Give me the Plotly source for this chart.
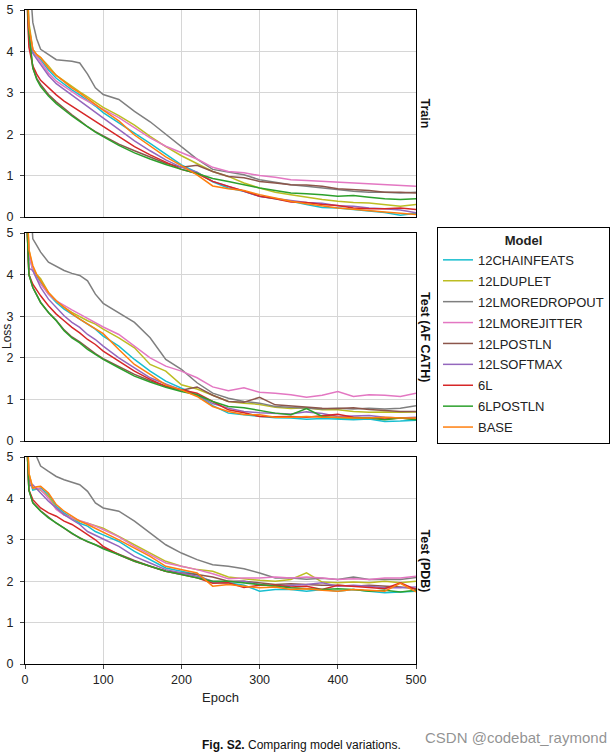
import plotly.graph_objects as go

epochs = [1, 5, 10, 15, 20, 30, 40, 50, 60, 70, 80, 90, 100, 120, 140, 160, 180, 200,
          220, 240, 260, 280, 300, 320, 340, 360, 380, 400, 420, 440, 460, 480, 500]

models = ["12CHAINFEATS", "12LDUPLET", "12LMOREDROPOUT", "12LMOREJITTER", "12LPOSTLN",
          "12LSOFTMAX", "6L", "6LPOSTLN", "BASE"]
colors = ["#17becf", "#bcbd22", "#7f7f7f", "#e377c2", "#8c564b",
          "#9467bd", "#d62728", "#2ca02c", "#ff7f0e"]
panels = ["Train", "Test (AF CATH)", "Test (PDB)"]

train_12chainfeats = [6.5, 4.6, 4.0, 3.88, 3.8, 3.55, 3.35, 3.2, 3.07, 2.95, 2.82, 2.68, 2.52, 2.28, 2.02, 1.78, 1.52, 1.26, 1.08, 0.85, 0.7, 0.62, 0.5, 0.44, 0.38, 0.3, 0.23, 0.22, 0.18, 0.14, 0.11, 0.04, 0.09]
train_12lduplet = [6.5, 4.7, 4.05, 3.92, 3.85, 3.65, 3.42, 3.28, 3.15, 3.02, 2.9, 2.78, 2.65, 2.45, 2.22, 1.95, 1.7, 1.48, 1.3, 1.1, 0.98, 0.82, 0.7, 0.6, 0.54, 0.48, 0.42, 0.38, 0.35, 0.34, 0.3, 0.26, 0.3]
train_12lmoredropout = [7.5, 6.0, 4.7, 4.3, 4.05, 3.93, 3.8, 3.78, 3.76, 3.72, 3.45, 3.12, 2.96, 2.84, 2.55, 2.3, 2.0, 1.72, 1.4, 1.15, 1.08, 1.02, 0.9, 0.84, 0.78, 0.74, 0.7, 0.66, 0.62, 0.6, 0.6, 0.58, 0.6]
train_12lmorejitter = [6.5, 4.5, 4.05, 3.88, 3.75, 3.48, 3.28, 3.15, 3.02, 2.9, 2.8, 2.69, 2.6, 2.4, 2.15, 1.91, 1.71, 1.55, 1.4, 1.2, 1.1, 1.07, 1.0, 0.96, 0.9, 0.88, 0.86, 0.84, 0.82, 0.8, 0.79, 0.76, 0.74]
train_12lpostln = [6.0, 4.4, 3.6, 3.35, 3.2, 2.96, 2.78, 2.62, 2.47, 2.33, 2.18, 2.06, 1.96, 1.76, 1.6, 1.45, 1.3, 1.2, 1.25, 1.1, 0.98, 0.95, 0.86, 0.82, 0.78, 0.77, 0.74, 0.68, 0.66, 0.64, 0.6, 0.6, 0.58]
train_12lsoftmax = [6.2, 4.2, 3.95, 3.82, 3.7, 3.42, 3.22, 3.08, 2.95, 2.82, 2.68, 2.52, 2.38, 2.12, 1.84, 1.6, 1.38, 1.2, 1.08, 0.86, 0.74, 0.62, 0.5, 0.45, 0.4, 0.35, 0.33, 0.27, 0.26, 0.22, 0.2, 0.17, 0.1]
train_6l = [6.0, 4.1, 3.65, 3.45, 3.3, 3.12, 2.95, 2.8, 2.68, 2.56, 2.44, 2.32, 2.18, 1.95, 1.7, 1.5, 1.32, 1.15, 1.05, 0.86, 0.74, 0.63, 0.5, 0.44, 0.36, 0.35, 0.3, 0.28, 0.22, 0.2, 0.2, 0.22, 0.18]
train_6lpostln = [6.0, 4.45, 3.6, 3.32, 3.15, 2.92, 2.74, 2.58, 2.44, 2.31, 2.17, 2.05, 1.94, 1.73, 1.55, 1.4, 1.27, 1.15, 1.05, 0.93, 0.86, 0.78, 0.7, 0.64, 0.58, 0.56, 0.54, 0.5, 0.52, 0.48, 0.44, 0.42, 0.44]
train_base = [6.5, 4.6, 4.05, 3.92, 3.85, 3.6, 3.42, 3.27, 3.12, 3.0, 2.87, 2.72, 2.58, 2.32, 1.98, 1.72, 1.45, 1.24, 1.02, 0.75, 0.68, 0.64, 0.54, 0.46, 0.38, 0.32, 0.27, 0.22, 0.19, 0.15, 0.12, 0.09, 0.06]

af_12chainfeats = [6.5, 4.5, 4.1, 3.95, 3.81, 3.53, 3.33, 3.17, 3.05, 2.93, 2.81, 2.69, 2.52, 2.28, 1.96, 1.68, 1.44, 1.27, 1.1, 0.85, 0.67, 0.63, 0.59, 0.56, 0.55, 0.52, 0.54, 0.52, 0.51, 0.53, 0.47, 0.48, 0.5]
af_12lduplet = [6.5, 4.6, 4.15, 4.0, 3.9, 3.57, 3.37, 3.21, 3.09, 2.98, 2.89, 2.81, 2.69, 2.48, 2.24, 1.84, 1.68, 1.35, 1.25, 1.1, 0.95, 0.91, 0.88, 0.81, 0.78, 0.8, 0.75, 0.75, 0.71, 0.69, 0.7, 0.69, 0.7]
af_12lmoredropout = [7.5, 6.2, 4.86, 4.7, 4.54, 4.3, 4.19, 4.1, 4.03, 3.98, 3.85, 3.53, 3.31, 3.09, 2.85, 2.48, 1.96, 1.72, 1.4, 1.15, 1.03, 0.95, 0.91, 0.83, 0.81, 0.79, 0.77, 0.79, 0.77, 0.79, 0.77, 0.79, 0.85]
af_12lmorejitter = [6.5, 4.5, 4.1, 3.9, 3.77, 3.53, 3.37, 3.25, 3.15, 3.05, 2.94, 2.85, 2.74, 2.56, 2.28, 2.0, 1.8, 1.68, 1.52, 1.3, 1.21, 1.28, 1.17, 1.15, 1.11, 1.05, 1.1, 1.19, 1.07, 1.11, 1.1, 1.07, 1.15]
af_12lpostln = [6.0, 4.0, 3.69, 3.49, 3.33, 3.09, 2.9, 2.67, 2.5, 2.38, 2.23, 2.1, 1.98, 1.8, 1.6, 1.45, 1.32, 1.22, 1.3, 1.1, 0.95, 0.93, 1.05, 0.87, 0.84, 0.82, 0.79, 0.78, 0.8, 0.76, 0.73, 0.71, 0.71]
af_12lsoftmax = [6.2, 4.15, 4.1, 3.88, 3.69, 3.41, 3.21, 3.01, 2.85, 2.73, 2.56, 2.44, 2.28, 2.0, 1.76, 1.52, 1.37, 1.23, 1.11, 0.9, 0.79, 0.71, 0.68, 0.67, 0.65, 0.7, 0.66, 0.59, 0.6, 0.61, 0.57, 0.55, 0.57]
af_6l = [6.0, 4.0, 3.77, 3.62, 3.49, 3.25, 3.05, 2.89, 2.73, 2.6, 2.44, 2.32, 2.16, 1.92, 1.68, 1.48, 1.31, 1.23, 1.15, 0.95, 0.75, 0.68, 0.59, 0.58, 0.59, 0.57, 0.6, 0.64, 0.57, 0.55, 0.53, 0.55, 0.52]
af_6lpostln = [6.0, 4.0, 3.69, 3.49, 3.33, 3.09, 2.89, 2.65, 2.48, 2.36, 2.2, 2.08, 1.96, 1.76, 1.56, 1.42, 1.29, 1.19, 1.11, 0.95, 0.83, 0.8, 0.73, 0.67, 0.63, 0.78, 0.59, 0.56, 0.55, 0.56, 0.51, 0.55, 0.51]
af_base = [6.5, 4.6, 4.22, 4.0, 3.85, 3.57, 3.37, 3.21, 3.06, 2.93, 2.81, 2.71, 2.58, 2.2, 1.84, 1.6, 1.35, 1.23, 1.07, 0.83, 0.71, 0.64, 0.63, 0.57, 0.57, 0.59, 0.57, 0.57, 0.55, 0.55, 0.57, 0.55, 0.55]

pdb_12chainfeats = [6.5, 4.5, 4.2, 4.22, 4.25, 4.09, 3.81, 3.65, 3.53, 3.4, 3.33, 3.2, 3.12, 2.96, 2.72, 2.52, 2.32, 2.24, 2.16, 1.96, 1.96, 1.9, 1.76, 1.8, 1.8, 1.76, 1.8, 1.76, 1.8, 1.76, 1.72, 1.74, 1.76]
pdb_12lduplet = [6.5, 4.6, 4.25, 4.22, 4.2, 4.05, 3.75, 3.6, 3.52, 3.45, 3.4, 3.34, 3.28, 3.08, 2.88, 2.66, 2.48, 2.36, 2.28, 2.24, 2.1, 2.06, 2.02, 2.0, 2.04, 2.2, 1.98, 1.96, 1.98, 1.96, 2.0, 1.96, 2.0]
pdb_12lmoredropout = [7.5, 6.5, 5.3, 5.0, 4.78, 4.65, 4.53, 4.45, 4.39, 4.33, 4.17, 3.89, 3.77, 3.69, 3.45, 3.16, 2.88, 2.68, 2.52, 2.4, 2.36, 2.3, 2.2, 2.08, 2.08, 2.05, 2.07, 2.04, 2.1, 2.04, 2.05, 2.04, 2.09]
pdb_12lmorejitter = [6.5, 4.5, 4.25, 4.25, 4.22, 4.0, 3.73, 3.6, 3.53, 3.47, 3.4, 3.33, 3.25, 3.07, 2.84, 2.64, 2.44, 2.36, 2.28, 2.18, 2.06, 2.08, 2.08, 2.1, 2.08, 2.1, 2.08, 2.04, 2.06, 2.04, 2.08, 2.08, 2.12]
pdb_12lpostln = [6.0, 4.2, 3.9, 3.8, 3.7, 3.55, 3.4, 3.28, 3.15, 3.05, 2.95, 2.88, 2.8, 2.65, 2.5, 2.36, 2.24, 2.2, 2.16, 2.1, 2.0, 2.0, 1.96, 1.92, 1.94, 1.92, 1.9, 1.9, 1.88, 1.9, 1.88, 1.86, 1.82]
pdb_12lsoftmax = [6.2, 4.3, 4.33, 4.22, 4.13, 3.93, 3.77, 3.61, 3.49, 3.37, 3.2, 3.1, 3.02, 2.84, 2.6, 2.44, 2.28, 2.2, 2.12, 2.0, 1.98, 2.0, 1.92, 1.88, 1.9, 1.92, 1.96, 1.88, 1.9, 1.88, 1.84, 1.84, 1.86]
pdb_6l = [6.0, 4.2, 3.97, 3.86, 3.77, 3.65, 3.57, 3.45, 3.37, 3.25, 3.12, 3.0, 2.84, 2.64, 2.48, 2.36, 2.24, 2.16, 2.08, 1.95, 1.96, 1.85, 1.9, 1.9, 1.86, 1.88, 1.8, 1.9, 1.88, 1.85, 1.82, 1.96, 1.8]
pdb_6lpostln = [6.0, 4.2, 3.89, 3.78, 3.69, 3.53, 3.4, 3.28, 3.16, 3.04, 2.96, 2.88, 2.78, 2.64, 2.48, 2.36, 2.24, 2.16, 2.08, 2.0, 2.0, 1.96, 1.92, 1.88, 1.84, 1.82, 1.8, 1.82, 1.8, 1.76, 1.78, 1.74, 1.78]
pdb_base = [6.5, 4.6, 4.25, 4.28, 4.29, 4.13, 3.85, 3.69, 3.57, 3.45, 3.37, 3.28, 3.2, 3.0, 2.8, 2.6, 2.36, 2.28, 2.2, 1.88, 1.92, 1.88, 1.84, 1.86, 1.8, 1.82, 1.78, 1.76, 1.8, 1.78, 1.76, 1.95, 1.74]

panel_data = [
    [train_12chainfeats, train_12lduplet, train_12lmoredropout, train_12lmorejitter, train_12lpostln,
     train_12lsoftmax, train_6l, train_6lpostln, train_base],
    [af_12chainfeats, af_12lduplet, af_12lmoredropout, af_12lmorejitter, af_12lpostln,
     af_12lsoftmax, af_6l, af_6lpostln, af_base],
    [pdb_12chainfeats, pdb_12lduplet, pdb_12lmoredropout, pdb_12lmorejitter, pdb_12lpostln,
     pdb_12lsoftmax, pdb_6l, pdb_6lpostln, pdb_base],
]

x_ticks = [0, 100, 200, 300, 400, 500]
y_ticks = [0, 1, 2, 3, 4, 5]

W, H = 615, 755
L, R, T, B = 25, 615 - 416, 10, 755 - 664
PH = H - T - B
PW = W - L - R
def py(page_y):  # page pixel y -> paper y
    return (H - B - page_y) / PH
def px(page_x):
    return (page_x - L) / PW

# panel extents in page pixels (top, bottom)
extents = [(10, 217), (233, 441), (457, 664)]

fig = go.Figure()
FONT = "Liberation Sans, Arial, sans-serif"

for p in range(3):
    xa = "x" if p == 0 else f"x{p+1}"
    ya = "y" if p == 0 else f"y{p+1}"
    for i, m in enumerate(models):
        fig.add_trace(go.Scatter(
            x=epochs, y=panel_data[p][i], mode="lines", name=m,
            line=dict(color=colors[i], width=1.5),
            legendgroup=m, showlegend=(p == 0),
            xaxis=xa, yaxis=ya,
        ))

axis_common = dict(showline=True, linecolor="black", linewidth=1, mirror=True,
                   showgrid=True, gridcolor="#d6d6d6", gridwidth=1, zeroline=False,
                   automargin=False,
                   tickfont=dict(family=FONT, size=12.5, color="#222"))
layout = dict(
    width=W, height=H, margin=dict(l=L, r=R, t=T, b=B, autoexpand=False),
    plot_bgcolor="white", paper_bgcolor="white",
    font=dict(family=FONT, size=12.5, color="#222"),
    legend=dict(
        title=dict(text="<b>Model</b>", side="top center", font=dict(size=13, family=FONT)),
        x=px(610), y=py(227), xanchor="right", yanchor="top",
        bordercolor="black", borderwidth=1, bgcolor="white",
        font=dict(size=13, family=FONT), itemwidth=30, tracegroupgap=1,
    ),
)
for p in range(3):
    top, bot = extents[p]
    xk = "xaxis" if p == 0 else f"xaxis{p+1}"
    yk = "yaxis" if p == 0 else f"yaxis{p+1}"
    xa_anchor = "y" if p == 0 else f"y{p+1}"
    ya_anchor = "x" if p == 0 else f"x{p+1}"
    layout[xk] = dict(axis_common, domain=[0, 1], anchor=xa_anchor, range=[0, 500],
                      tickvals=x_ticks, showticklabels=(p == 2),
                      ticks="outside" if p == 2 else "", ticklen=4)
    if p != 2:
        layout[xk]["matches"] = "x3"
    layout[yk] = dict(axis_common, domain=[py(bot), py(top)], anchor=ya_anchor, range=[0, 5],
                      tickvals=y_ticks, ticks="outside", ticklen=4, ticklabelstandoff=4)
fig.update_layout(**layout)

for p in range(3):
    top, bot = extents[p]
    fig.add_annotation(text=f"<b>{panels[p]}</b>", xref="paper", yref="paper",
                       x=px(425), y=py((top + bot) / 2), textangle=90, showarrow=False,
                       xanchor="center", yanchor="middle",
                       font=dict(size=12.5, family=FONT, color="#111"))

fig.add_annotation(text="Epoch", xref="paper", yref="paper", x=px(220), y=py(697),
                   showarrow=False, xanchor="center", yanchor="middle",
                   font=dict(size=13, family=FONT, color="#222"))
fig.add_annotation(text="Loss", xref="paper", yref="paper", x=px(7), y=py(337),
                   textangle=-90, showarrow=False, xanchor="center", yanchor="middle",
                   font=dict(size=12, family=FONT, color="#222"))
fig.add_annotation(text="<b>Fig. S2.</b> Comparing model variations.", xref="paper", yref="paper",
                   x=px(301), y=py(745), showarrow=False, xanchor="center", yanchor="middle",
                   font=dict(size=12, family=FONT, color="#111"))
fig.add_annotation(text="CSDN @codebat_raymond", xref="paper", yref="paper",
                   x=px(516), y=py(737), showarrow=False, xanchor="center", yanchor="middle",
                   font=dict(size=15, family=FONT, color="rgba(110,110,110,0.75)"))

# remove the default 8px page margin so the figure sits at the page origin
fig.write_html("out.html", config={"displayModeBar": False},
               post_script="document.body.style.margin='0';")
